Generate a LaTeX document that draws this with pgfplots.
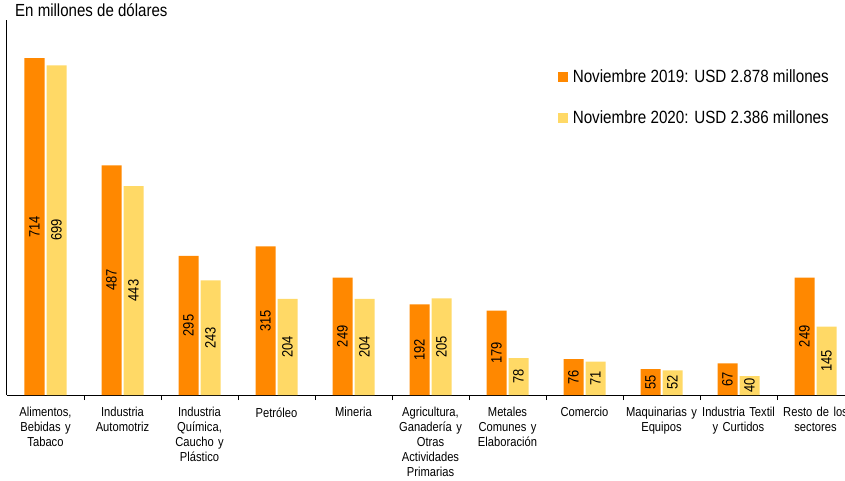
\documentclass[border=0pt]{standalone}
\usepackage{pgfplots}
\pgfplotsset{compat=1.18}
\usepackage{pgfplotstable}
\usepackage{fontspec}
\setmainfont{Liberation Sans}[FakeStretch=0.86]

\definecolor{naranja}{RGB}{255,136,0}
\definecolor{amarillo}{RGB}{255,217,102}

% exportaciones por sector, en millones de dolares
\pgfplotstableread{
x  v19  v20
0  714  699
1  487  443
2  295  243
3  315  204
4  249  204
5  192  205
6  179  78
7  76   71
8  55   52
9  67   40
10 249  145
}\datos

\begin{document}
\begin{tikzpicture}
\useasboundingbox (-7pt,-85pt) rectangle (838pt,395pt);
\begin{axis}[
    scale only axis,
    width=838pt, height=375pt,
    xmin=-0.5, xmax=10.383,
    ymin=0, ymax=795,
    axis x line*=bottom,
    axis y line*=left,
    axis line style={black, line width=1pt, -},
    ytick=\empty,
    xtick={0,...,10},
    xticklabels={
      {Alimentos,\\Bebidas y\\Tabaco},
      {Industria\\Automotriz},
      {Industria\\Química,\\Caucho y\\Plástico},
      {Petróleo},
      {Mineria},
      {Agricultura,\\Ganadería y\\Otras\\Actividades\\Primarias},
      {Metales\\Comunes y\\Elaboración},
      {Comercio},
      {Maquinarias y\\Equipos},
      {Industria Textil\\y Curtidos},
      {Resto de los\\sectores}},
    x tick label style={font=\fontsize{13}{15}\selectfont, align=center, text width=80pt, yshift=-9pt},
    tick align=outside,
    major tick length=0pt,
    tick style={black, line width=0.8pt},
    extra x ticks={0.5,1.5,...,9.5},
    extra x tick labels={},
    extra x tick style={major tick length=5pt},
    /pgf/number format/assume math mode=true,
    legend style={at={(0.657,0.873)}, anchor=north west, draw=none, fill=none,
      font=\fontsize{17.7}{20}\selectfont, row sep=23pt, inner sep=0pt},
    legend cell align=left,
    legend image code/.code={\fill[#1] (0pt,-5pt) rectangle (10pt,5pt); \path (13pt,0pt);},
    every node near coord/.style={anchor=center, rotate=90, font=\fontsize{15}{15}\selectfont, black},
]
\addplot[ybar, bar width=20pt, bar shift=-11pt, fill=naranja, draw=none]
  table[x=x, y=v19] {\datos};
\addlegendentry{Noviembre 2019: USD 2.878 millones}
\addplot[ybar, bar width=20pt, bar shift=11pt, fill=amarillo, draw=none]
  table[x=x, y=v20] {\datos};
\addlegendentry{Noviembre 2020: USD 2.386 millones}

% etiquetas de valor, a media altura de cada barra (11pt = 0.142857 unidades)
\addplot[draw=none, mark=none, forget plot, nodes near coords, point meta=explicit]
  table[x expr=\thisrow{x}-0.142857, y expr=\thisrow{v19}/2, meta=v19] {\datos};
\addplot[draw=none, mark=none, forget plot, nodes near coords, point meta=explicit]
  table[x expr=\thisrow{x}+0.142857, y expr=\thisrow{v20}/2, meta=v20] {\datos};
\end{axis}
\node[anchor=west, font=\fontsize{17.5}{20}\selectfont, inner sep=0pt] at (8pt,385pt) {En millones de dólares};
\end{tikzpicture}
\end{document}
